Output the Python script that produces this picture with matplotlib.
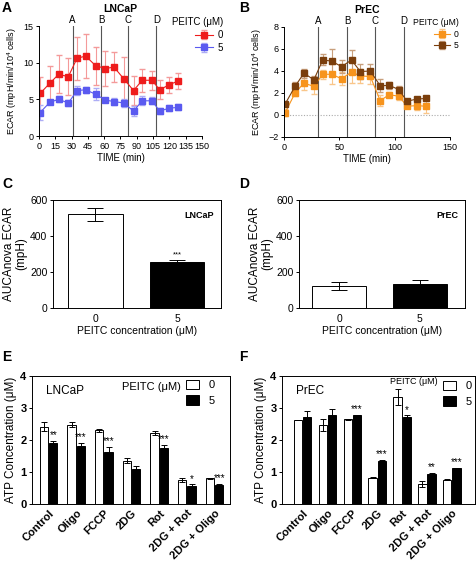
import matplotlib
matplotlib.use("Agg")
import matplotlib.pyplot as plt
import numpy as np
from matplotlib.patches import Patch

# ---------------- data ----------------
time_min = [1, 10, 18, 27, 35, 43, 52, 61, 69, 78, 87, 95, 104, 111, 120, 128]
inj_times = [31, 57, 82, 108]
inj_labels = ["A", "B", "C", "D"]

lncap_0 = [5.8, 7.2, 8.4, 8.1, 10.6, 10.9, 9.6, 9.2, 9.4, 7.8, 6.2, 7.6, 7.6, 6.3, 7.0, 7.5]
lncap_0_err = [2.3, 2.4, 2.6, 2.5, 2.9, 3.0, 2.6, 2.4, 2.0, 3.0, 2.0, 1.6, 1.3, 1.3, 1.1, 1.1]
lncap_5 = [3.2, 4.6, 5.0, 4.5, 6.2, 6.3, 5.7, 4.9, 4.7, 4.5, 3.4, 4.8, 4.8, 3.4, 3.8, 3.9]
lncap_5_err = [1.0, 0.3, 0.4, 0.4, 0.6, 0.4, 0.8, 0.3, 0.5, 0.5, 0.7, 0.6, 0.5, 0.4, 0.4, 0.4]

prec_0 = [0.2, 2.0, 2.9, 2.6, 3.7, 3.7, 3.3, 3.9, 3.55, 3.5, 1.3, 1.85, 1.7, 0.8, 0.85, 0.8]
prec_0_err = [0.3, 0.3, 0.6, 0.7, 0.4, 0.9, 0.6, 1.0, 0.6, 0.7, 0.5, 0.2, 0.3, 0.2, 0.4, 0.6]
prec_5 = [1.0, 2.6, 3.8, 3.2, 5.0, 4.9, 4.4, 5.0, 3.95, 4.0, 2.65, 2.7, 2.3, 1.25, 1.45, 1.5]
prec_5_err = [0.1, 0.4, 0.4, 0.3, 0.5, 1.1, 0.6, 0.9, 0.7, 0.6, 0.6, 0.3, 0.3, 0.1, 0.1, 0.1]

peitc_conc = ["0", "5"]
auc_lncap = [520, 258]
auc_lncap_err = [35, 10]
auc_prec = [123, 133]
auc_prec_err = [22, 25]

treatments = ["Control", "Oligo", "FCCP", "2DG", "Rot", "2DG + Rot", "2DG + Oligo"]
atp_lncap_0 = [2.42, 2.48, 2.30, 1.35, 2.22, 0.75, 0.80]
atp_lncap_0_err = [0.13, 0.07, 0.05, 0.08, 0.05, 0.07, 0.02]
atp_lncap_5 = [1.90, 1.82, 1.63, 1.10, 1.75, 0.57, 0.60]
atp_lncap_5_err = [0.07, 0.10, 0.15, 0.10, 0.10, 0.04, 0.03]
atp_lncap_sig = ["**", "***", "***", "", "***", "*", "***"]

atp_prec_0 = [2.62, 2.47, 2.65, 0.82, 3.33, 0.62, 0.76]
atp_prec_0_err = [0.01, 0.20, 0.02, 0.01, 0.25, 0.10, 0.01]
atp_prec_5 = [2.73, 2.78, 2.78, 1.35, 2.73, 0.94, 1.12]
atp_prec_5_err = [0.17, 0.20, 0.01, 0.02, 0.04, 0.03, 0.02]
atp_prec_sig = ["", "", "***", "***", "*", "**", "***"]

# ---------------- style ----------------
plt.rcParams['font.family'] = ['Liberation Sans', 'DejaVu Sans']
plt.rcParams['font.size'] = 6.5
plt.rcParams['axes.linewidth'] = 0.7
plt.rcParams['xtick.major.width'] = 0.7
plt.rcParams['ytick.major.width'] = 0.7
plt.rcParams['xtick.major.size'] = 2.5
plt.rcParams['ytick.major.size'] = 2.5
plt.rcParams['xtick.major.pad'] = 1.5
plt.rcParams['ytick.major.pad'] = 1.5
plt.rcParams['mathtext.default'] = 'regular'

W, H = 477, 562
fig = plt.figure(figsize=(W / 100, H / 100), dpi=100)


def ax_px(l, t, r, b):
    return fig.add_axes([l / W, 1 - b / H, (r - l) / W, (b - t) / H])


def fx(x):
    return x / W


def fy(y):
    return 1 - y / H


def letter(x, y, s):
    fig.text(fx(x), fy(y), s, fontsize=10, fontweight='bold', va='top', ha='left')


def ts_legend(ax, right_px, top_px, fs):
    leg = ax.legend(title="PEITC (μM)", loc='upper right',
                    bbox_to_anchor=(fx(right_px), fy(top_px)), bbox_transform=fig.transFigure,
                    frameon=False, fontsize=fs, title_fontsize=fs, handlelength=1.8,
                    borderpad=0.0, borderaxespad=0.0, labelspacing=0.3, handletextpad=0.5)
    leg._legend_box.align = "right"
    return leg


# ---------------- Panel A ----------------
axA = ax_px(39, 26, 202, 136)
red, red_l = "#ee1c1c", "#f49a9a"
blue, blue_l = "#5a5af0", "#adadf5"
axA.errorbar(time_min, lncap_0, yerr=lncap_0_err, color=red, ecolor=red_l, marker='s',
             ms=4, lw=0.8, elinewidth=0.8, capsize=2.5, label="0")
axA.errorbar(time_min, lncap_5, yerr=lncap_5_err, color=blue, ecolor=blue_l, marker='s',
             ms=4, lw=0.8, elinewidth=0.8, capsize=2.5, label="5")
for t, s in zip(inj_times, inj_labels):
    axA.axvline(t, color="#555555", lw=0.8)
    axA.text(t, 15.2, s, ha='center', va='bottom', fontsize=7)
axA.set_xlim(0, 150)
axA.set_ylim(0, 15)
axA.set_xticks(np.arange(0, 151, 15))
axA.set_yticks([0, 5, 10, 15])
axA.spines['top'].set_visible(False)
axA.spines['right'].set_visible(False)
axA.set_xlabel("TIME (min)", labelpad=2, fontsize=7)
axA.set_ylabel("ECAR (mpH/min/10$^4$ cells)", labelpad=3, fontsize=6.5)
axA.set_title("LNCaP", fontweight='bold', fontsize=7.5, pad=10)
ts_legend(axA, 223, 17, 7)
letter(2, 1, "A")

# ---------------- Panel B ----------------
axB = ax_px(284, 27, 450, 137)
orange, orange_l = "#f7941d", "#f9c68a"
brown, brown_l = "#7a3e0c", "#c89f7c"
axB.axhline(0, color="#aaaaaa", lw=0.8, ls=(0, (1, 1.5)))
axB.errorbar(time_min, prec_0, yerr=prec_0_err, color=orange, ecolor=orange_l, marker='s',
             ms=4, lw=0.8, elinewidth=0.8, capsize=2.5, label="0")
axB.errorbar(time_min, prec_5, yerr=prec_5_err, color=brown, ecolor=brown_l, marker='s',
             ms=4, lw=0.8, elinewidth=0.8, capsize=2.5, label="5")
for t, s in zip(inj_times, inj_labels):
    axB.axvline(t, color="#555555", lw=0.8)
    axB.text(t, 8.1, s, ha='center', va='bottom', fontsize=7)
axB.set_xlim(0, 150)
axB.set_ylim(-2, 8)
axB.set_xticks([0, 50, 100, 150])
axB.set_yticks(np.arange(-2, 9, 2))
axB.spines['top'].set_visible(False)
axB.spines['right'].set_visible(False)
axB.set_xlabel("TIME (min)", labelpad=2, fontsize=7)
axB.set_ylabel("ECAR (mpH/min/10$^4$ cells)", labelpad=3, fontsize=6.5)
axB.set_title("PrEC", fontweight='bold', fontsize=7.5, pad=10)
ts_legend(axB, 459, 18, 6.2)
letter(239, 1, "B")


# ---------------- Panels C, D ----------------
def auc_panel(ax, vals, errs, name):
    x = np.arange(len(peitc_conc))
    ax.bar(x, vals, width=0.67, color=['white', 'black'], edgecolor='black', linewidth=0.7,
           yerr=errs, error_kw=dict(ecolor='black', elinewidth=0.7, capsize=6, capthick=0.7),
           zorder=2)
    ax.set_xticks(x)
    ax.set_xticklabels(peitc_conc)
    ax.set_ylim(0, 600)
    ax.set_yticks([0, 200, 400, 600])
    ax.tick_params(axis='x', length=0, pad=4, labelsize=7.5)
    ax.tick_params(axis='y', labelsize=7.5)
    ax.set_xlabel("PEITC concentration (μM)", fontsize=7.5, labelpad=2)
    ax.set_ylabel("AUCAnova ECAR\n(mpH)", fontsize=8.5, labelpad=2, linespacing=1.0)
    ax.text(0.96, 0.9, name, transform=ax.transAxes, ha='right', va='top',
            fontweight='bold', fontsize=6.5)


axC = ax_px(53, 200, 221, 308)
auc_panel(axC, auc_lncap, auc_lncap_err, "LNCaP")
axC.set_xlim(-0.52, 1.54)
axC.text(1, auc_lncap[1] + auc_lncap_err[1] + 5, "***", ha='center', va='bottom', fontsize=5.5)
letter(2, 177, "C")

axD = ax_px(299, 200, 465, 308)
auc_panel(axD, auc_prec, auc_prec_err, "PrEC")
axD.set_xlim(-0.5, 1.56)
letter(239, 177, "D")


# ---------------- Panels E, F ----------------
def atp_panel(ax, v0, e0, v5, e5, sig, off, w, cap):
    x = np.arange(len(treatments))
    ax.bar(x - off, v0, width=w, color='white', edgecolor='black', linewidth=0.7,
           yerr=e0, error_kw=dict(ecolor='black', elinewidth=0.7, capsize=cap, capthick=0.7),
           label="0", zorder=2)
    ax.bar(x + off, v5, width=w, color='black', edgecolor='black', linewidth=0.7,
           yerr=e5, error_kw=dict(ecolor='black', elinewidth=0.7, capsize=cap, capthick=0.7),
           label="5", zorder=2)
    for xi, v, e, s in zip(x, v5, e5, sig):
        if s:
            ax.text(xi + off, v + e + 0.02, s, ha='center', va='bottom', fontsize=7)
    ax.set_xticks(x)
    ax.set_xticklabels(treatments, rotation=45, ha='right', rotation_mode='anchor',
                       fontweight='bold', fontsize=8)
    ax.tick_params(axis='x', length=0, pad=3)
    ax.set_ylim(0, 4)
    ax.set_yticks([0, 1, 2, 3, 4])
    ax.tick_params(axis='y', labelsize=8)
    for lab in ax.get_yticklabels():
        lab.set_fontweight('bold')
    ax.set_ylabel("ATP Concentration (μM)", fontsize=8.5, labelpad=2)


handles = [Patch(facecolor='white', edgecolor='black', lw=0.7),
           Patch(facecolor='black', edgecolor='black', lw=0.7)]

axE = ax_px(32, 376, 230, 504)
atp_panel(axE, atp_lncap_0, atp_lncap_0_err, atp_lncap_5, atp_lncap_5_err, atp_lncap_sig,
          0.17, 0.30, 2)
axE.set_xlim(-0.6, 6.56)
axE.text(0.07, 0.93, "LNCaP", transform=axE.transAxes, ha='left', va='top', fontsize=8.5)
axE.legend(handles, ["0", "5"], loc='upper left',
           bbox_to_anchor=(fx(186), fy(380)), bbox_transform=fig.transFigure,
           frameon=False, fontsize=8, handlelength=1.2, handleheight=0.9,
           labelspacing=0.45, handletextpad=0.8, borderpad=0.0, borderaxespad=0.0)
fig.text(fx(181), fy(387), "PEITC (μM)", ha='right', va='center', fontsize=8)
letter(2, 350, "E")

axF = ax_px(282, 376, 475, 504)
atp_panel(axF, atp_prec_0, atp_prec_0_err, atp_prec_5, atp_prec_5_err, atp_prec_sig,
          0.185, 0.34, 2)
axF.set_xlim(-0.83, 6.93)
axF.text(0.07, 0.93, "PrEC", transform=axF.transAxes, ha='left', va='top', fontsize=8.5)
axF.legend(handles, ["0", "5"], loc='upper left',
           bbox_to_anchor=(fx(443), fy(381)), bbox_transform=fig.transFigure,
           frameon=False, fontsize=8, handlelength=1.2, handleheight=0.9,
           labelspacing=0.45, handletextpad=0.8, borderpad=0.0, borderaxespad=0.0)
fig.text(fx(414), fy(381), "PEITC (μM)", ha='center', va='center', fontsize=6.5)
letter(239, 350, "F")

fig.savefig("out.png", dpi=100)
